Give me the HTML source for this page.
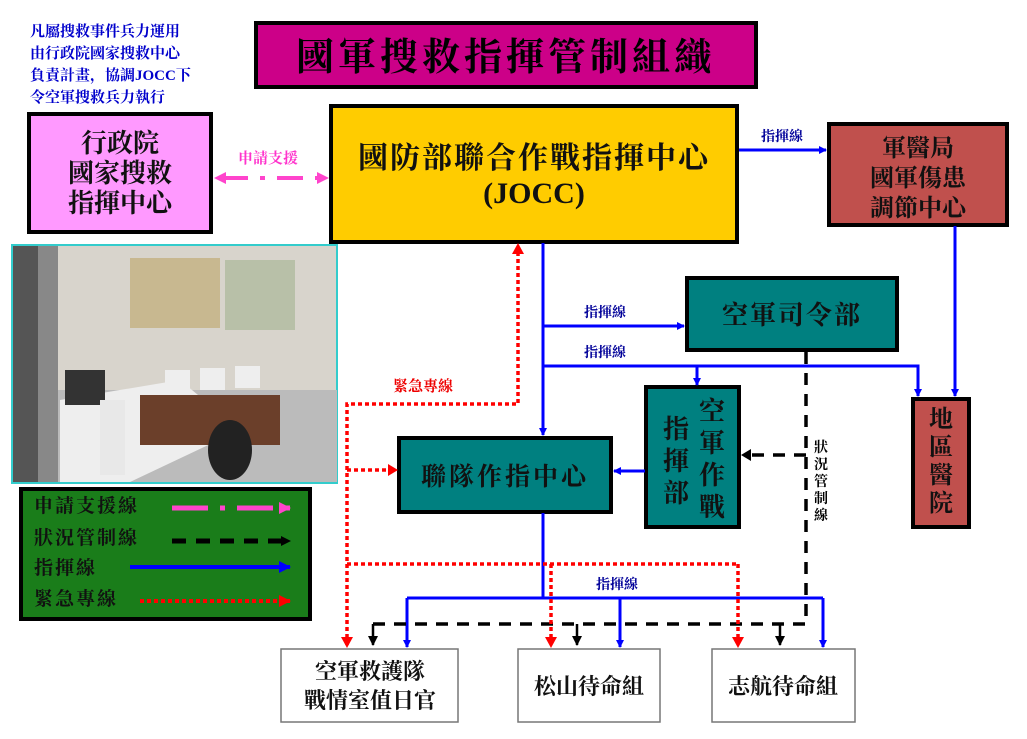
<!DOCTYPE html>
<html><head><meta charset="utf-8"><style>
body{margin:0;background:#fff;width:1027px;height:739px;overflow:hidden}
svg{display:block}
text{font-family:"Liberation Serif","Noto Serif CJK SC","Noto Sans CJK TC",serif}
</style></head><body>
<svg width="1027" height="739" viewBox="0 0 1027 739" xmlns="http://www.w3.org/2000/svg">
<defs>
<marker id="ab" markerWidth="8" markerHeight="8" refX="7" refY="4" orient="auto" markerUnits="userSpaceOnUse"><path d="M0,0 L8,4 L0,8z" fill="#0000ff"/></marker>
<marker id="ab2" markerWidth="12" markerHeight="12" refX="11" refY="6" orient="auto" markerUnits="userSpaceOnUse"><path d="M0,0 L12,6 L0,12z" fill="#0000ff"/></marker>
<marker id="ak" markerWidth="10" markerHeight="10" refX="9" refY="5" orient="auto" markerUnits="userSpaceOnUse"><path d="M0,0 L10,5 L0,10z" fill="#000"/></marker>
<marker id="ar" markerWidth="12" markerHeight="12" refX="11" refY="6" orient="auto" markerUnits="userSpaceOnUse"><path d="M0,0 L12,6 L0,12z" fill="#ff0000"/></marker>
<marker id="ap" markerWidth="12" markerHeight="12" refX="11" refY="6" orient="auto" markerUnits="userSpaceOnUse"><path d="M0,0 L12,6 L0,12z" fill="#ff44cc"/></marker>
</defs>
<g fill="#0000cc" font-size="15" font-weight="bold">
<text x="30" y="36">凡屬搜救事件兵力運用</text>
<text x="30" y="58">由行政院國家搜救中心</text>
<text x="30" y="80">負責計畫，協調JOCC下</text>
<text x="30" y="102">令空軍搜救兵力執行</text>
</g>
<rect x="256" y="23" width="500" height="64" fill="#cc0088" stroke="#000" stroke-width="4"/>
<text x="506" y="70" font-size="38" font-weight="bold" text-anchor="middle" letter-spacing="4">國軍搜救指揮管制組織</text>
<rect x="29" y="114" width="182" height="118" fill="#ff99ff" stroke="#000" stroke-width="4"/>
<g font-size="26" font-weight="bold" text-anchor="middle" fill="#111"><text x="120" y="152">行政院</text><text x="120" y="182">國家搜救</text><text x="120" y="212">指揮中心</text></g>
<rect x="331" y="106" width="406" height="136" fill="#ffcc00" stroke="#000" stroke-width="4"/>
<g font-size="30" font-weight="bold" text-anchor="middle" fill="#111"><text x="534" y="168" letter-spacing="2">國防部聯合作戰指揮中心</text><text x="534" y="203">(JOCC)</text></g>
<rect x="829" y="124" width="178" height="101" fill="#c0504d" stroke="#000" stroke-width="4"/>
<g font-size="24" font-weight="bold" text-anchor="middle" fill="#111"><text x="918" y="156">軍醫局</text><text x="918" y="186">國軍傷患</text><text x="918" y="216">調節中心</text></g>
<rect x="12" y="245" width="325" height="238" fill="#d8d4cc" stroke="#33cccc" stroke-width="2"/>
<rect x="13" y="246" width="25" height="236" fill="#555"/>
<rect x="38" y="246" width="20" height="236" fill="#888"/>
<rect x="130" y="258" width="90" height="70" fill="#c8b890"/>
<rect x="225" y="260" width="70" height="70" fill="#b8c0a8"/>
<rect x="58" y="390" width="279" height="92" fill="#bbb"/>
<polygon points="60,400 180,380 240,430 130,482 60,482" fill="#eee"/>
<rect x="140" y="395" width="140" height="50" fill="#6b3f2a"/>
<rect x="65" y="370" width="40" height="35" fill="#333"/>
<rect x="165" y="370" width="25" height="22" fill="#eee"/>
<rect x="200" y="368" width="25" height="22" fill="#eee"/>
<rect x="235" y="366" width="25" height="22" fill="#eee"/>
<ellipse cx="230" cy="450" rx="22" ry="30" fill="#222"/>
<rect x="100" y="400" width="25" height="75" fill="#e8e8e8"/>
<rect x="21" y="489" width="289" height="130" fill="#1a7d1a" stroke="#000" stroke-width="4"/>
<g font-size="19" fill="#111" font-weight="bold" letter-spacing="2">
<text x="34" y="512">申請支援線</text><text x="34" y="544">狀況管制線</text><text x="34" y="574">指揮線</text><text x="34" y="605">緊急專線</text>
</g>
<line x1="172" y1="508" x2="290" y2="508" stroke="#ff44cc" stroke-width="5" stroke-dasharray="36,12,5,12" marker-end="url(#ap)"/>
<line x1="172" y1="541" x2="290" y2="541" stroke="#000" stroke-width="5" stroke-dasharray="14,10" marker-end="url(#ak)"/>
<line x1="130" y1="567" x2="290" y2="567" stroke="#0000ff" stroke-width="4" marker-end="url(#ab2)"/>
<line x1="140" y1="601" x2="290" y2="601" stroke="#ff0000" stroke-width="4" stroke-dasharray="4,3" marker-end="url(#ar)"/>
<rect x="687" y="278" width="210" height="72" fill="#008080" stroke="#000" stroke-width="4"/>
<text x="792" y="324" font-size="26" font-weight="bold" text-anchor="middle" fill="#111" letter-spacing="2">空軍司令部</text>
<rect x="646" y="387" width="93" height="140" fill="#008080" stroke="#000" stroke-width="4"/>
<g font-size="26" font-weight="bold" fill="#111" text-anchor="middle"><text x="712" y="420">空</text><text x="712" y="452">軍</text><text x="712" y="484">作</text><text x="712" y="516">戰</text><text x="676" y="438">指</text><text x="676" y="470">揮</text><text x="676" y="502">部</text></g>
<rect x="399" y="438" width="212" height="74" fill="#008080" stroke="#000" stroke-width="4"/>
<text x="505" y="485" font-size="25" font-weight="bold" text-anchor="middle" fill="#111" letter-spacing="3">聯隊作指中心</text>
<rect x="913" y="399" width="56" height="128" fill="#c0504d" stroke="#000" stroke-width="4"/>
<g font-size="24" font-weight="bold" fill="#111" text-anchor="middle"><text x="941" y="427">地</text><text x="941" y="455">區</text><text x="941" y="483">醫</text><text x="941" y="511">院</text></g>
<g fill="#fff" stroke="#777" stroke-width="1.5">
<rect x="281" y="649" width="177" height="73"/><rect x="518" y="649" width="142" height="73"/><rect x="712" y="649" width="143" height="73"/></g>
<g font-size="22" font-weight="bold" fill="#111" text-anchor="middle">
<text x="370" y="679">空軍救護隊</text><text x="370" y="708">戰情室值日官</text>
<text x="589" y="694">松山待命組</text><text x="783" y="694">志航待命組</text></g>
<line x1="222" y1="178" x2="328" y2="178" stroke="#ff44cc" stroke-width="4" stroke-dasharray="26,12,5,12" marker-end="url(#ap)"/>
<path d="M226,172 L214,178 L226,184z" fill="#ff44cc"/>
<text x="268" y="163" font-size="15" font-weight="bold" fill="#ff33cc" text-anchor="middle">申請支援</text>
<g stroke="#0000ff" stroke-width="3" fill="none">
<line x1="739" y1="150" x2="826" y2="150" marker-end="url(#ab)"/>
<line x1="543" y1="243" x2="543" y2="435" marker-end="url(#ab)"/>
<line x1="543" y1="326" x2="684" y2="326" marker-end="url(#ab)"/>
<polyline points="543,366 918,366 918,396" marker-end="url(#ab)"/>
<line x1="697" y1="366" x2="697" y2="385" marker-end="url(#ab)"/>
<line x1="955" y1="226" x2="955" y2="396" marker-end="url(#ab)"/>
<line x1="645" y1="471" x2="614" y2="471" marker-end="url(#ab)"/>
<line x1="543" y1="513" x2="543" y2="598"/>
<line x1="407" y1="598" x2="823" y2="598"/>
<line x1="407" y1="598" x2="407" y2="647" marker-end="url(#ab)"/>
<line x1="620" y1="598" x2="620" y2="647" marker-end="url(#ab)"/>
<line x1="823" y1="598" x2="823" y2="647" marker-end="url(#ab)"/>
</g>
<g font-size="14" font-weight="bold" fill="#000099" text-anchor="middle">
<text x="782" y="141">指揮線</text><text x="605" y="317">指揮線</text><text x="605" y="357">指揮線</text><text x="617" y="589">指揮線</text></g>
<g stroke="#000" stroke-width="3.5" fill="none" stroke-dasharray="12,9">
<polyline points="806,352 806,624 365,624"/>
<line x1="806" y1="455" x2="745" y2="455"/>
</g>
<g stroke="#000" stroke-width="2.5">
<line x1="373" y1="624" x2="373" y2="645" marker-end="url(#ak)"/>
<line x1="577" y1="624" x2="577" y2="645" marker-end="url(#ak)"/>
<line x1="780" y1="624" x2="780" y2="645" marker-end="url(#ak)"/>
</g>
<path d="M741,455 L751,449 L751,461z" fill="#000"/>
<rect x="812" y="438" width="18" height="92" fill="#fff"/>
<g font-size="14" font-weight="bold" fill="#000" text-anchor="middle"><text x="821" y="452">狀</text><text x="821" y="469">況</text><text x="821" y="486">管</text><text x="821" y="503">制</text><text x="821" y="520">線</text></g>
<g stroke="#ff0000" stroke-width="3.5" fill="none" stroke-dasharray="4,3">
<polyline points="347,645 347,404 518,404 518,248"/>
<line x1="347" y1="470" x2="394" y2="470"/>
<line x1="347" y1="564" x2="738" y2="564"/>
<line x1="551" y1="564" x2="551" y2="644"/>
<line x1="738" y1="564" x2="738" y2="644"/>
</g>
<g fill="#ff0000">
<path d="M341,637 L353,637 L347,648z"/><path d="M545,637 L557,637 L551,648z"/><path d="M732,637 L744,637 L738,648z"/>
<path d="M512,254 L524,254 L518,243z"/><path d="M388,464 L388,476 L398,470z"/>
</g>
<text x="423" y="391" font-size="15" font-weight="bold" fill="#ee0000" text-anchor="middle">緊急專線</text>
</svg>
</body></html>
